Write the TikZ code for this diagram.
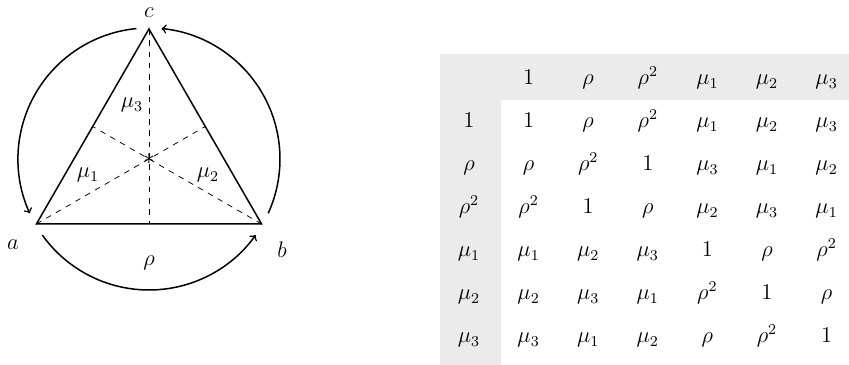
\documentclass[tikz,border=0pt]{standalone}
\usetikzlibrary{calc, arrows}
\tikzstyle{side} = [thick]
\tikzstyle{median} = [dashed]
\tikzstyle{arrow} = [thick,->,>=to]
\tikzstyle{cell} = [anchor=base, inner sep=0pt]
\tikzstyle{shade} = [fill=black!8, draw=none]

\begin{document}
\begin{tikzpicture}[every node/.style={font=\large}]

\useasboundingbox (-2.786,-3.852) rectangle (13.09,2.973);

% triangle on its circumcircle
\coordinate (a) at (210:2.431);
\coordinate (b) at (330:2.431);
\coordinate (c) at (90:2.431);

\draw [side] (a) -- (b) -- (c) -- cycle;

\draw [median] (c) -- ($(a)!0.5!(b)$);
\draw [median] (a) -- ($(b)!0.5!(c)$);
\draw [median] (b) -- ($(a)!0.5!(c)$);

\node (o) [inner sep=0pt] at (0,0) {$*$};

\node (la) at (-2.543,-1.608) {$a$};
\node (lb) at (2.487,-1.702) {$b$};
\node (lc) at (0,2.74) {$c$};

\node (mu3) at (-0.318,1.01) {$\mu_3$};
\node (mu1) at (-1.141,-0.299) {$\mu_1$};
\node (mu2) at (1.103,-0.299) {$\mu_2$};
\node (rho) at (0,-1.945) {$\rho$};

% rotations
\coordinate (ca) at (95.5:2.45);
\coordinate (ab) at (215.5:2.45);
\coordinate (bc) at (335.5:2.45);

\draw [arrow] (ca) arc[start angle=95.5, end angle=204.5, radius=2.45];
\draw [arrow] (ab) arc[start angle=215.5, end angle=324.5, radius=2.45];
\draw [arrow] (bc) arc[start angle=335.5, end angle=444.5, radius=2.45];

% multiplication table
\fill [shade] (5.442,1.964) rectangle (13.09,1.103);
\fill [shade] (5.442,1.964) rectangle (6.582,-3.852);

\foreach \row [count=\i from 0] in {
    {{},1,\rho,\rho^2,\mu_1,\mu_2,\mu_3},
    {1,1,\rho,\rho^2,\mu_1,\mu_2,\mu_3},
    {\rho,\rho,\rho^2,1,\mu_3,\mu_1,\mu_2},
    {\rho^2,\rho^2,1,\rho,\mu_2,\mu_3,\mu_1},
    {\mu_1,\mu_1,\mu_2,\mu_3,1,\rho,\rho^2},
    {\mu_2,\mu_2,\mu_3,\mu_1,\rho^2,1,\rho},
    {\mu_3,\mu_3,\mu_1,\mu_2,\rho,\rho^2,1}}
{
    \foreach \e [count=\j from 0] in \row
    {
        \node (t-\i-\j) [cell] at ({5.984+1.1145*\j},{1.384-0.804*\i}) {$\e$};
    }
}

\end{tikzpicture}
\end{document}
